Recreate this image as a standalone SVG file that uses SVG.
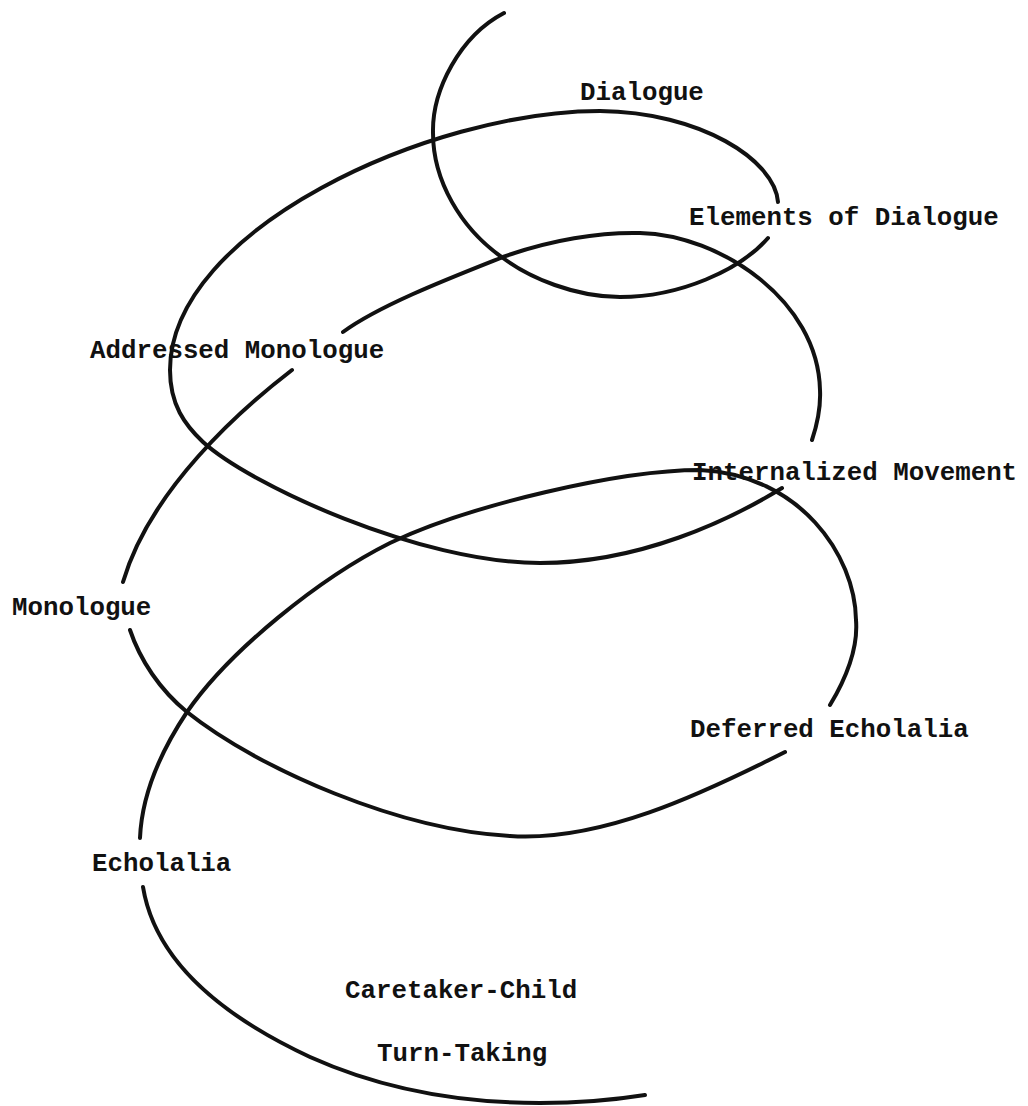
<svg xmlns="http://www.w3.org/2000/svg" width="1028" height="1106" viewBox="0 0 1028 1106">
<style>
.lbl{font-family:"Liberation Mono","DejaVu Sans Mono",monospace;font-size:25.8px;font-weight:bold;fill:#111}
.sp{fill:none;stroke:#111;stroke-width:4;stroke-linecap:round;stroke-linejoin:round}
</style>
<rect width="1028" height="1106" fill="#fff"/>
<g id="connectors">
<path id="seg-top" class="sp" d="M504,13 C460,36 432,90 433,133 C433,180 460,228 503,258 C530,278 575,297 620,297 C680,297 740,270 768,238"/>
<path id="seg-dialogue-loop" class="sp" d="M778,202 C775,160 700,112 600,111 C430,111 170,230 170,370 C170,405 185,425 203,442 C250,485 420,563 540,563 C640,563 730,520 782,488"/>
<path id="seg-addressed-up" class="sp" d="M343,332 C380,305 450,278 503,257 C550,240 600,232 640,233 C720,235 818,300 820,390 C821,410 816,428 812,440"/>
<path id="seg-addressed-down" class="sp" d="M292,370 C240,410 150,490 123,582"/>
<path id="seg-monologue-low" class="sp" d="M130,630 C140,660 160,690 187,712 C260,770 400,830 510,836 C600,842 700,795 785,752"/>
<path id="seg-deferred-up" class="sp" d="M830,705 C848,675 858,645 856,620 C855,555 800,475 700,470 C620,470 470,505 390,543 C320,578 230,650 187,712 C165,745 142,790 140,838"/>
<path id="seg-bottom" class="sp" d="M143,887 C155,960 220,1015 310,1057 C390,1093 470,1103 540,1103 C580,1103 620,1099 645,1095"/>
</g>
<g id="node-dialogue"><text class="lbl" x="580" y="100">Dialogue</text></g>
<g id="node-elements"><text class="lbl" x="689" y="225">Elements of Dialogue</text></g>
<g id="node-addressed"><text class="lbl" x="90" y="358">Addressed Monologue</text></g>
<g id="node-internalized"><text class="lbl" x="692" y="480">Internalized Movement</text></g>
<g id="node-monologue"><text class="lbl" x="12" y="615">Monologue</text></g>
<g id="node-deferred"><text class="lbl" x="690" y="737">Deferred Echolalia</text></g>
<g id="node-echolalia"><text class="lbl" x="92" y="871">Echolalia</text></g>
<g id="node-caretaker"><text class="lbl" x="345" y="998">Caretaker-Child</text><text class="lbl" x="377" y="1061">Turn-Taking</text></g>
</svg>
